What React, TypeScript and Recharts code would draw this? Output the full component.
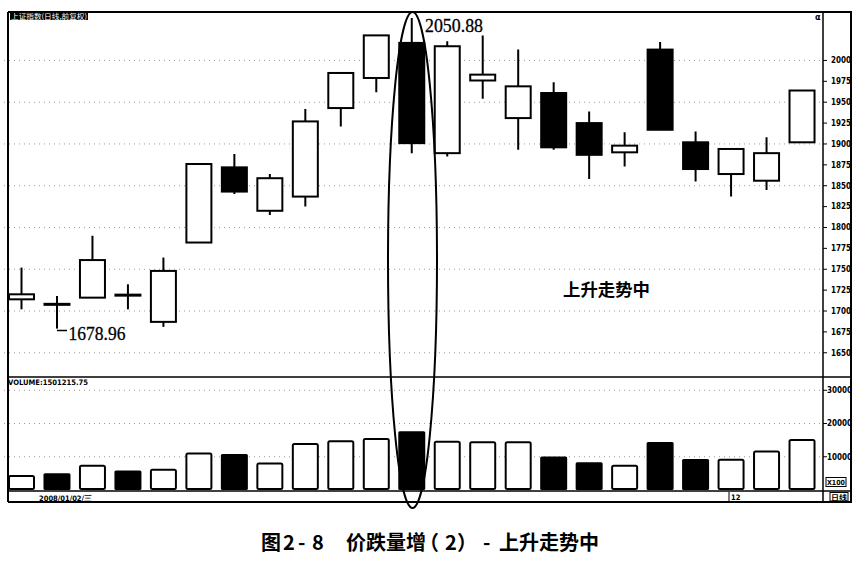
import React from 'react';
import { ComposedChart, Bar, XAxis, YAxis, CartesianGrid } from 'recharts';

const days = ['1', '2', '3', '4', '5', '6', '7', '8', '9', '10', '11', '12', '13', '14', '15', '16', '17', '18', '19', '20', '21', '22', '23'];
const opens = [1714, 1708, 1716, 1719, 1687, 1782, 1872, 1820, 1837, 1943, 1979, 2021, 1889, 1976, 1931, 1961, 1925, 1890, 2013, 1902, 1864, 1856, 1902];
const closes = [1720, 1708, 1761, 1719, 1748, 1876, 1843, 1859, 1927, 1985, 2030, 1901, 2017, 1983, 1969, 1896, 1887, 1898, 1917, 1870, 1894, 1889, 1964];
const highs = [1752, 1718, 1790, 1732, 1764, 1876, 1888, 1864, 1942, 1985, 2030, 2050.88, 2023, 2030, 2013, 1974, 1939, 1914, 2022, 1915, 1895, 1908, 1964];
const lows = [1702, 1678.96, 1716, 1702, 1681, 1782, 1840, 1815, 1825, 1921, 1962, 1889, 1885, 1954, 1893, 1893, 1858, 1873, 1917, 1855, 1837, 1845, 1902];
const volumes = [4240, 4750, 7270, 5550, 6060, 11000, 10500, 7970, 13850, 14640, 15360, 17370, 14550, 14340, 14340, 9800, 8080, 7270, 14150, 9000, 9090, 11600, 15060];
const volumeDown = [false, true, false, true, false, false, true, false, false, false, false, true, false, false, false, true, true, false, true, true, false, false, false];
const priceTicks = [1650, 1675, 1700, 1725, 1750, 1775, 1800, 1825, 1850, 1875, 1900, 1925, 1950, 1975, 2000];
const priceGrid = [1650, 1700, 1750, 1800, 1850, 1900, 1950, 2000];
const volumeTicks = [10000, 20000, 30000];
const highLabel = '2050.88';
const lowLabel = '1678.96';
const noteLabel = '上升走势中';
const captionChars = ['图', '2', '-', '8', '价', '跌', '量', '增', '（', '2', '）', '-', '上', '升', '走', '势', '中'];
const captionX = [261, 283, 298, 312, 346, 366, 386, 406, 419, 445, 457, 483, 499, 519, 539, 559, 579];

const rows = days.map((d, i) => ({
  day: d,
  open: opens[i],
  close: closes[i],
  high: highs[i],
  low: lows[i],
  range: [lows[i], highs[i]],
  vol: volumes[i],
  down: volumeDown[i],
}));

const axisFont = 'DejaVu Sans Condensed, DejaVu Sans, sans-serif';

function Candle(props: any) {
  const { x, y, width, height, payload } = props;
  if (x == null || y == null) return null;
  const top = Math.min(y, y + height);
  const h = Math.abs(height);
  const { open, close, high, low } = payload;
  const span = high - low || 1;
  const py = (v: number) => top + ((high - v) / span) * h;
  const cx = x + width / 2;
  const yo = py(open);
  const yc = py(close);
  const bTop = Math.min(yo, yc);
  const bH = Math.abs(yo - yc);
  let body;
  if (bH < 1.5) {
    body = <rect x={x} y={bTop - 1.5} width={width} height={3} fill="#000" />;
  } else if (close > open) {
    body = <rect x={x + 1} y={bTop} width={width - 2} height={bH} fill="#fff" stroke="#000" strokeWidth={2} />;
  } else {
    body = <rect x={x} y={bTop - 1} width={width} height={bH + 2} fill="#000" />;
  }
  return (
    <g>
      <line x1={cx} x2={cx} y1={py(high)} y2={py(low)} stroke="#000" strokeWidth={2} />
      {body}
    </g>
  );
}

function VolBar(props: any) {
  const { x, y, width, height, payload } = props;
  if (x == null || y == null) return null;
  if (payload.down) {
    return <rect x={x} y={y - 1} width={width} height={height + 1} fill="#000" rx={1.5} />;
  }
  return <rect x={x + 1} y={y} width={width - 2} height={height - 1} fill="#fff" stroke="#000" strokeWidth={2} rx={1.5} />;
}

export default function App() {
  return (
    <div style={{ position: 'absolute', left: 0, top: 0, width: 867, height: 565, background: '#fff' }}>
      <div style={{ position: 'absolute', left: 4, top: 12 }}>
        <ComposedChart width={847} height={365} data={rows} margin={{ top: 0, right: 0, bottom: 0, left: 0 }}>
          <CartesianGrid vertical={false} horizontalValues={priceGrid} stroke="#9a9a9a" strokeDasharray="1 4" />
          <XAxis dataKey="day" hide padding={{ left: 0, right: 3 }} />
          <YAxis
            orientation="right"
            width={28}
            domain={[1621, 2058]}
            ticks={priceTicks}
            interval={0}
            allowDataOverflow
            axisLine={false}
            tickSize={4}
            tickMargin={4}
            tickLine={{ stroke: '#000', strokeWidth: 1 }}
            tick={{ fontSize: 8, fontWeight: 'bold', fontFamily: axisFont, fill: '#000' }}
          />
          <Bar dataKey="range" barSize={27} isAnimationActive={false} shape={(p: any) => <Candle {...p} />} />
        </ComposedChart>
      </div>
      <div style={{ position: 'absolute', left: 4, top: 377 }}>
        <ComposedChart width={847} height={113} data={rows} margin={{ top: 0, right: 0, bottom: 0, left: 0 }}>
          <CartesianGrid vertical={false} horizontalValues={volumeTicks} stroke="#9a9a9a" strokeDasharray="1 4" />
          <XAxis dataKey="day" hide padding={{ left: 0, right: 3 }} />
          <YAxis
            orientation="right"
            width={28}
            domain={[0, 34000]}
            ticks={volumeTicks}
            interval={0}
            allowDataOverflow
            axisLine={false}
            tickSize={4}
            tickMargin={0}
            tickLine={{ stroke: '#000', strokeWidth: 1 }}
            tick={{ fontSize: 8, fontWeight: 'bold', fontFamily: axisFont, fill: '#000' }}
          />
          <Bar dataKey="vol" barSize={27} isAnimationActive={false} shape={(p: any) => <VolBar {...p} />} />
        </ComposedChart>
      </div>
      <svg width={867} height={565} style={{ position: 'absolute', left: 0, top: 0, pointerEvents: 'none' }}>
        <line x1={8} x2={852} y1={12} y2={12} stroke="#000" strokeWidth={2} />
        <line x1={8} x2={8} y1={12} y2={502} stroke="#000" strokeWidth={2} />
        <line x1={851} x2={851} y1={12} y2={502} stroke="#000" strokeWidth={2} />
        <line x1={823} x2={823} y1={12} y2={502} stroke="#000" strokeWidth={1.5} />
        <line x1={8} x2={851} y1={377} y2={377} stroke="#000" strokeWidth={1.5} />
        <line x1={8} x2={851} y1={491} y2={491} stroke="#000" strokeWidth={1.5} />
        <line x1={8} x2={852} y1={502} y2={502} stroke="#000" strokeWidth={2} />
        <rect x={10} y={12.5} width={78} height={7.5} fill="#000" />
        <text x={11} y={19} fontSize={7} fill="#fff" fontFamily="Noto Sans CJK SC, sans-serif" textLength={76} lengthAdjust="spacingAndGlyphs">上证指数(日线,前复权)</text>
        <text x={815} y={19.5} fontSize={9} fontWeight="bold" fill="#000" fontFamily={axisFont}>α</text>
        <text x={8} y={385} fontSize={7.5} fontWeight="bold" fill="#000" fontFamily={axisFont} textLength={80} lengthAdjust="spacingAndGlyphs">VOLUME:1501215.75</text>
        <text x={39} y={501} fontSize={7.5} fontWeight="bold" fill="#000" fontFamily={axisFont} textLength={53} lengthAdjust="spacingAndGlyphs">2008/01/02/三</text>
        <line x1={729} x2={729} y1={492} y2={501} stroke="#000" strokeWidth={1} />
        <text x={731} y={500} fontSize={7.5} fontWeight="bold" fill="#000" fontFamily={axisFont}>12</text>
        <rect x={826} y={477.5} width={20} height={9} fill="none" stroke="#000" strokeWidth={1} />
        <text x={827} y={485} fontSize={7} fontWeight="bold" fill="#000" fontFamily={axisFont} textLength={18} lengthAdjust="spacingAndGlyphs">X100</text>
        <rect x={830} y={492.5} width={18} height={8.5} fill="none" stroke="#000" strokeWidth={1} />
        <text x={831} y={500} fontSize={7} fontWeight="bold" fill="#000" fontFamily="Noto Sans CJK SC, sans-serif" textLength={16} lengthAdjust="spacingAndGlyphs">日线</text>
        <ellipse cx={412.5} cy={260} rx={24.5} ry={248} fill="none" stroke="#000" strokeWidth={2} />
        <text x={425} y={32} fontSize={19} fill="#000" stroke="#000" strokeWidth={0.3} fontFamily="Liberation Serif, serif" textLength={58} lengthAdjust="spacingAndGlyphs">{highLabel}</text>
        <line x1={57} x2={67} y1={330.5} y2={330.5} stroke="#000" strokeWidth={1.5} />
        <text x={68.5} y={339.5} fontSize={19} fill="#000" stroke="#000" strokeWidth={0.3} fontFamily="Liberation Serif, serif" textLength={57} lengthAdjust="spacingAndGlyphs">{lowLabel}</text>
        <text x={563} y={296} fontSize={17} fontWeight="bold" fill="#000" fontFamily="Noto Sans CJK SC, sans-serif" textLength={87} lengthAdjust="spacingAndGlyphs">{noteLabel}</text>
        <text x={captionX.join(' ')} y={550} fontSize={20} fontWeight="bold" fill="#000" fontFamily="Noto Sans CJK SC, sans-serif">{captionChars.join('')}</text>
      </svg>
    </div>
  );
}
